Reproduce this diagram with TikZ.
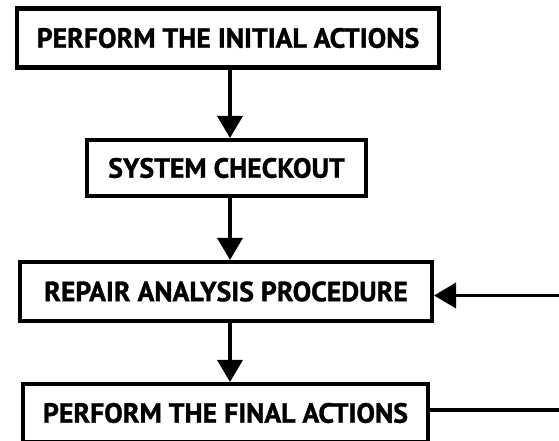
\documentclass[tikz,border=0pt]{standalone}
\usepackage{fontspec}
\setsansfont{PT Sans}[BoldFeatures={FakeBold=1.2}]
\usetikzlibrary{arrows.meta, positioning}

\begin{document}
\begin{tikzpicture}
		\tikzset{
			stepbox/.style={rectangle, draw, solid, black, line width=2.3pt, align=center,
			font=\sffamily\bfseries\fontsize{15.8}{17}\selectfont, inner sep=0pt},
			flow/.style={line width=2pt, -{Triangle[length=0.44cm, width=0.5cm]}}
		}
		\useasboundingbox (0,0) rectangle (11.18,-8.8);
		\node[stepbox, minimum width=8.44cm, minimum height=1.18cm] (init) at (4.56,-0.76) {PERFORM THE INITIAL ACTIONS};
		\node[stepbox, minimum width=5.58cm, minimum height=1.12cm] (check) at (4.53,-3.36) {SYSTEM CHECKOUT};
		\node[stepbox, minimum width=8.24cm, minimum height=1.18cm] (repair) at (4.52,-5.83) {REPAIR ANALYSIS PROCEDURE};
		\node[stepbox, minimum width=8.10cm, minimum height=1.16cm] (final) at (4.51,-8.26) {PERFORM THE FINAL ACTIONS};
		\coordinate (axis) at (4.60,0);
		\coordinate (loop) at (11.5,0);

		\draw[flow] (init.south -| axis) -- (check.north -| axis);
		\draw[flow] (check.south -| axis) -- (repair.north -| axis);
		\draw[flow] (repair.south -| axis) -- (final.north -| axis);
		\draw[flow] ([yshift=0.06cm]final.east) -- ([yshift=0.06cm]final.east -| loop) |- ([yshift=-0.08cm]repair.east);

	\end{tikzpicture}
\end{document}
